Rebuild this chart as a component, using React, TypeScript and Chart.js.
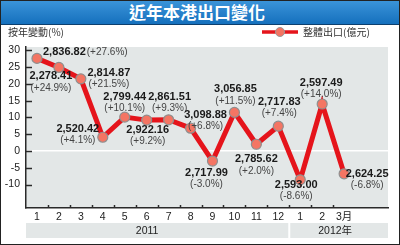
import React, { useEffect, useRef } from 'react';
import { Chart, registerables } from 'chart.js';
Chart.register(...registerables);

const monthLabels = ['1', '2', '3', '4', '5', '6', '7', '8', '9', '10', '11', '12', '1', '2', '3月'];
const yoyChange = [27.6, 24.9, 21.5, 4.1, 10.1, 9.2, 9.3, 6.8, -3.0, 11.5, 2.0, 7.4, -8.6, 14.0, -6.8];
const exportValues = ['2,836.82', '2,278.41', '2,814.87', '2,520.42', '2,799.44', '2,922.16', '2,861.51', '3,098.88', '2,717.99', '3,056.85', '2,785.62', '2,717.83', '2,593.00', '2,597.49', '2,624.25'];
const yTickValues = [-10, -5, 0, 5, 10, 15, 20, 25, 30];
const yearLabels = ['2011', '2012年'];
const yearFirstMonth = [1, 13];
const yearLastMonth = [12, 15];

const TITLE = '近年本港出口變化';
const Y_TITLE = '按年變動(%)';
const LEGEND = '整體出口(億元)';

// label placement styles: [dx of text center, dy of first line, inline?]
const labelOffsets: [number, number, number][] = [
  [6, -6, 1], [-8, 9, 0], [28, -6, 0], [-25, -8, 0], [0, -20, 0],
  [1, 10, 0], [1, -23, 0], [15, -13, 0], [-6, 12, 0], [1, -23, 0],
  [0, 15, 0], [1, -24, 0], [-4, 5, 0], [-1, -21, 0], [23, 0, 0],
];
const yearTextShift = [-10, -4];

const PLOT_BG = '#e3e7e7';
const RED = '#e5141b';
const AXIS = '#2a2a2a';
const NUM_FONT = 'bold 11px "Liberation Sans Narrow", "Arial Narrow", "Liberation Sans", Arial, sans-serif';
const PCT_FONT = '10px "Liberation Sans", Arial, sans-serif';
const CJK_FONT = '10px "Noto Sans CJK TC", "Noto Sans CJK SC", sans-serif';

const fmtPct = (v: number) => '(' + (v > 0 ? '+' : '') + v.toFixed(1) + '%)';

export default function App() {
  const ref = useRef<HTMLCanvasElement>(null);
  useEffect(() => {
    document.body.style.margin = '0';
    const canvas = ref.current!;
    const deco = {
      id: 'deco',
      beforeDraw(chart: any) {
        const { ctx, chartArea: a } = chart;
        const xs = chart.scales.x;
        ctx.save();
        ctx.fillStyle = PLOT_BG;
        ctx.fillRect(a.left, a.top, a.right - a.left, a.bottom - a.top);
        yearLabels.forEach((lab, i) => {
          const l = i === 0 ? a.left : xs.getPixelForValue(yearFirstMonth[i] - 0.5) + 1;
          const r = i === yearLabels.length - 1 ? a.right : xs.getPixelForValue(yearLastMonth[i] + 0.5) - 1;
          ctx.fillStyle = PLOT_BG;
          ctx.fillRect(l, 223, r - l, 15);
          ctx.fillStyle = '#222';
          ctx.font = '10.5px "Liberation Sans", "Noto Sans CJK TC", sans-serif';
          ctx.textAlign = 'center';
          ctx.textBaseline = 'middle';
          ctx.fillText(lab, (l + r) / 2 + yearTextShift[i], 231);
        });
        ctx.restore();
      },
      afterDraw(chart: any) {
        const { ctx, chartArea: a } = chart;
        const xs = chart.scales.x;
        const ys = chart.scales.y;
        ctx.save();
        ctx.strokeStyle = AXIS;
        ctx.lineWidth = 1.5;
        yTickValues.forEach((v) => {
          const y = Math.round(ys.getPixelForValue(v)) + 0.5;
          ctx.beginPath();
          ctx.moveTo(a.left, y);
          ctx.lineTo(a.left + 6, y);
          ctx.stroke();
        });
        for (let i = 1; i < monthLabels.length; i++) {
          const x = Math.round(xs.getPixelForValue(i + 0.5)) + 0.5;
          ctx.beginPath();
          ctx.moveTo(x, a.bottom);
          ctx.lineTo(x, a.bottom - 3);
          ctx.stroke();
        }
        ctx.fillStyle = '#333';
        ctx.font = CJK_FONT;
        ctx.textAlign = 'left';
        ctx.textBaseline = 'middle';
        ctx.fillText(Y_TITLE, 8, 32);
        ctx.strokeStyle = RED;
        ctx.lineWidth = 3.5;
        ctx.beginPath();
        ctx.moveTo(262, 32);
        ctx.lineTo(298, 32);
        ctx.stroke();
        ctx.beginPath();
        ctx.arc(280, 32, 4.5, 0, Math.PI * 2);
        ctx.fillStyle = '#f47563';
        ctx.fill();
        ctx.lineWidth = 1;
        ctx.strokeStyle = '#999';
        ctx.stroke();
        ctx.fillStyle = '#333';
        ctx.font = CJK_FONT;
        ctx.fillText(LEGEND, 303, 32);
        ctx.restore();
      },
      afterDatasetsDraw(chart: any) {
        const { ctx } = chart;
        const meta = chart.getDatasetMeta(0);
        ctx.save();
        ctx.textBaseline = 'middle';
        meta.data.forEach((pt: any, i: number) => {
          const [dx, dy, inline] = labelOffsets[i];
          const num = exportValues[i];
          const pct = fmtPct(yoyChange[i]);
          if (inline) {
            ctx.font = NUM_FONT;
            ctx.textAlign = 'left';
            ctx.fillStyle = '#1a1a1a';
            ctx.fillText(num, pt.x + dx, pt.y + dy);
            const w = ctx.measureText(num).width;
            ctx.font = PCT_FONT;
            ctx.fillStyle = '#444';
            ctx.fillText(pct, pt.x + dx + w + 1, pt.y + dy);
          } else {
            ctx.textAlign = 'center';
            ctx.font = NUM_FONT;
            ctx.fillStyle = '#1a1a1a';
            ctx.fillText(num, pt.x + dx, pt.y + dy);
            ctx.font = PCT_FONT;
            ctx.fillStyle = '#444';
            ctx.fillText(pct, pt.x + dx, pt.y + dy + 11.5);
          }
        });
        ctx.restore();
      },
    };

    const chart = new Chart(canvas, {
      type: 'line',
      data: {
        datasets: [
          {
            data: yoyChange.map((v, i) => ({ x: i + 1, y: v })),
            borderColor: RED,
            borderWidth: 5,
            pointRadius: 5,
            pointBackgroundColor: '#f47563',
            pointBorderColor: '#8f8f8f',
            pointBorderWidth: 1.2,
            tension: 0,
          },
        ],
      },
      options: {
        animation: false,
        responsive: false,
        layout: { padding: { left: 0, right: 12, top: 47, bottom: 0 } },
        plugins: { legend: { display: false }, tooltip: { enabled: false }, title: { display: false } },
        scales: {
          x: {
            type: 'linear',
            min: 0.5,
            max: 17,
            afterBuildTicks: (s: any) => {
              s.ticks = monthLabels.map((_, i) => ({ value: i + 1 }));
            },
            afterFit: (s: any) => {
              s.height = 37;
            },
            ticks: {
              autoSkip: false,
              maxRotation: 0,
              padding: 3,
              color: '#222',
              font: { family: '"Liberation Sans", "Noto Sans CJK TC", sans-serif', size: 10.5 },
              callback: (v: any) => monthLabels[Math.round(v) - 1] ?? '',
            },
            grid: { display: false, drawTicks: false },
            border: { display: true, color: AXIS, width: 1.5 },
          },
          y: {
            min: -17,
            max: 31,
            afterBuildTicks: (s: any) => {
              s.ticks = yTickValues.map((v) => ({ value: v }));
            },
            afterFit: (s: any) => {
              s.width = 26;
            },
            ticks: {
              padding: 6,
              color: '#222',
              font: { family: '"Liberation Sans", Arial, sans-serif', size: 10.5 },
            },
            grid: {
              drawTicks: false,
              color: (c: any) => (c.tick && c.tick.value === 0 ? '#ffffff' : 'rgba(0,0,0,0)'),
              lineWidth: 1.5,
            },
            border: { display: true, color: AXIS, width: 1.5 },
          },
        },
      },
      plugins: [deco],
    } as any);
    return () => chart.destroy();
  }, []);

  return (
    <div style={{ position: 'fixed', left: 0, top: 0, width: 400, height: 245, background: '#fff', overflow: 'hidden' }}>
      <canvas ref={ref} width={400} height={245} style={{ position: 'absolute', left: 0, top: 0, width: 400, height: 245 }} />
      <div
        style={{
          position: 'absolute', left: 0, top: 0, width: 400, height: 25, boxSizing: 'border-box',
          background: 'linear-gradient(#3c95da, #1570bd)', borderBottom: '1px solid #0c3f6e',
          color: '#fff', fontWeight: 'bold', fontSize: 17, lineHeight: '24px', textAlign: 'center',
          fontFamily: '"Noto Sans CJK TC", "Noto Sans CJK SC", sans-serif', letterSpacing: 0,
        }}
      >
        <span style={{ position: 'relative', left: -3 }}>{TITLE}</span>
      </div>
      <div style={{ position: 'absolute', left: 0, top: 0, width: 400, height: 245, boxSizing: 'border-box', border: '1.5px solid #222', pointerEvents: 'none' }} />
    </div>
  );
}
